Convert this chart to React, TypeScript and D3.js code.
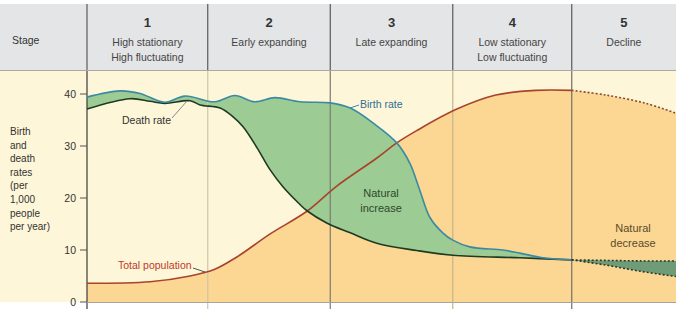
import React from "react";
import * as d3 from "d3";

const stageNumbers = ["1", "2", "3", "4", "5"];
const stageNames = [
  ["High stationary", "High fluctuating"],
  ["Early expanding"],
  ["Late expanding"],
  ["Low stationary", "Low fluctuating"],
  ["Decline"],
];
const stageBounds = [0, 20.5, 41.3, 62.1, 82.3, 100];

const birthT = [0, 5.6, 9.0, 13.2, 16.6, 21.7, 25.1, 28.5, 31.9, 36.2, 41.3, 44.7, 48.6, 52.6, 54.8, 56.5, 58.2, 60.4, 62.1, 65.0, 70.6, 73.5, 77.4, 82.3];
const birthRate = [39.4, 40.6, 40.1, 38.4, 39.6, 38.5, 39.7, 38.5, 39.3, 38.5, 38.3, 37.3, 34.4, 30.6, 26.7, 21.5, 16.3, 13.3, 11.9, 10.6, 10.0, 9.4, 8.5, 8.1];

const deathT = [0, 7.3, 10.7, 13.2, 17.5, 19.2, 22.6, 24.8, 26.5, 28.9, 31.1, 33.3, 36.2, 37.4, 40.7, 44.7, 49.2, 56.0, 62.1, 73.5, 82.3];
const deathRate = [37.1, 39.1, 38.6, 38.2, 38.7, 37.9, 37.3, 35.6, 33.7, 29.6, 25.4, 22.1, 18.7, 17.5, 15.2, 13.3, 11.3, 9.9, 9.0, 8.5, 8.1];

const popT = [0, 10.7, 17.5, 21.7, 25.5, 31.1, 37.4, 42.3, 49.1, 52.6, 55.9, 62.6, 69.4, 76.2, 82.3];
const population = [3.6, 3.9, 5.0, 6.3, 8.7, 13.1, 17.5, 22.2, 27.6, 30.6, 32.9, 37.0, 39.8, 40.7, 40.7];

const popDeclineT = [82.3, 88.1, 94.9, 100];
const popDecline = [40.7, 39.8, 38.2, 36.3];

const declineT = [82.3, 88.1, 94.0, 100];
const declineDeath = [8.1, 8.0, 7.9, 7.9];
const declineBirth = [8.1, 7.1, 5.9, 4.9];

const yTicks = [0, 10, 20, 30, 40];
const axisLabel = ["Birth", "and", "death", "rates", "(per", "1,000", "people", "per year)"];

type P = [number, number];
const zip = (t: number[], v: number[]): P[] => t.map((d, i) => [d, v[i]]);

export default function App() {
  const W = 676, H = 309;
  const plotTop = 71, plotBottom = 302, left = 87;
  const x = d3.scaleLinear().domain([0, 100]).range([left, W]);
  const y = d3.scaleLinear().domain([0, 40]).range([plotBottom, 94]);
  const curve = d3.curveCatmullRom.alpha(0.5);

  const line = d3.line<P>().x(d => x(d[0])).y(d => y(d[1])).curve(curve);
  const areaDown = d3.area<P>().x(d => x(d[0])).y0(plotBottom).y1(d => y(d[1])).curve(curve);
  const areaUp = d3.area<P>().x(d => x(d[0])).y0(plotTop).y1(d => y(d[1])).curve(curve);

  const birth = zip(birthT, birthRate);
  const death = zip(deathT, deathRate);
  const pop = zip(popT, population);
  const popD = zip(popDeclineT, popDecline);
  const dDeath = zip(declineT, declineDeath);
  const dBirth = zip(declineT, declineBirth);

  const font = "'Liberation Sans', Arial, sans-serif";
  const plotLineColors = ["#3a3a3a", "#cfc6a6", "#7a7a72", "#c4b48c", "#6f6f68"];

  return (
    <svg width={W} height={H} style={{ position: "absolute", left: 0, top: 0, display: "block" }} fontFamily={font}>
      <defs>
        <clipPath id="aboveDeath"><path d={areaUp(death) || ""} /></clipPath>
        <clipPath id="aboveBirthDecl"><path d={areaUp(dBirth) || ""} /></clipPath>
      </defs>
      <rect x={0} y={0} width={W} height={H} fill="#ffffff" />
      {/* header */}
      <rect x={0} y={4} width={W} height={66} fill="#e4e5e7" />
      {/* plot background */}
      <rect x={0} y={plotTop} width={W} height={plotBottom - plotTop} fill="#fdf6d8" />
      {/* population area */}
      <path d={areaDown(pop) || ""} fill="#fbd793" />
      <path d={areaDown(popD) || ""} fill="#fbd793" />
      {/* natural increase */}
      <path d={areaDown(birth) || ""} fill="#9ccb93" clipPath="url(#aboveDeath)" />
      {/* natural decrease */}
      <path d={areaDown(dDeath) || ""} fill="#6e9c78" clipPath="url(#aboveBirthDecl)" />

      {/* vertical lines */}
      {stageBounds.slice(0, 5).map((b, i) => (
        <g key={"v" + i}>
          <line x1={x(b)} x2={x(b)} y1={4} y2={70} stroke="#5a5a5a" strokeWidth={1.2} />
          <line x1={x(b)} x2={x(b)} y1={70} y2={H} stroke={plotLineColors[i]} strokeWidth={1.2} />
        </g>
      ))}
      <line x1={0} x2={W} y1={70.5} y2={70.5} stroke="#a9a9a4" strokeWidth={1.2} />
      <line x1={left} x2={W} y1={plotBottom + 0.5} y2={plotBottom + 0.5} stroke="#a8a49a" strokeWidth={1.2} />

      {/* lines */}
      <path d={line(pop) || ""} fill="none" stroke="#a8432c" strokeWidth={1.6} />
      <path d={line(popD) || ""} fill="none" stroke="#8a4a32" strokeWidth={1.6} strokeDasharray="2,2" />
      <path d={line(death) || ""} fill="none" stroke="#1f3a24" strokeWidth={1.6} />
      <path d={line(birth) || ""} fill="none" stroke="#3b8aa3" strokeWidth={1.6} />
      <path d={line(dDeath) || ""} fill="none" stroke="#2a3a2c" strokeWidth={1.6} strokeDasharray="2,2" />
      <path d={line(dBirth) || ""} fill="none" stroke="#2a3a2c" strokeWidth={1.6} strokeDasharray="2,2" />

      {/* y axis ticks */}
      {yTicks.map(t => (
        <g key={"t" + t}>
          <line x1={80} x2={left} y1={y(t)} y2={y(t)} stroke="#555" strokeWidth={1} />
          <text x={76} y={y(t)} dy="0.35em" textAnchor="end" fontSize={10.5} fill="#333">{t}</text>
        </g>
      ))}
      {axisLabel.map((s, i) => (
        <text key={"a" + i} x={10} y={135 + i * 13.6} fontSize={10} fill="#333">{s}</text>
      ))}

      {/* header text */}
      <text x={12} y={44} fontSize={10.5} fill="#333">Stage</text>
      {stageNumbers.map((n, i) => {
        const cx = (x(stageBounds[i]) + x(stageBounds[i + 1])) / 2;
        return (
          <g key={"s" + i}>
            <text x={cx} y={27} textAnchor="middle" fontSize={13} fontWeight="bold" fill="#333">{n}</text>
            {stageNames[i].map((s, j) => (
              <text key={j} x={cx} y={46 + j * 15} textAnchor="middle" fontSize={10.5} fill="#444">{s}</text>
            ))}
          </g>
        );
      })}

      {/* annotations */}
      <line x1={172} y1={118} x2={187} y2={101} stroke="#888" strokeWidth={1} />
      <text x={122} y={124} fontSize={10.5} fill="#333">Death rate</text>
      <line x1={350} y1={108} x2={359} y2={105} stroke="#3b8aa3" strokeWidth={1} />
      <text x={360} y={108} fontSize={10.5} fill="#2f6f95">Birth rate</text>
      <line x1={193} y1={268} x2={205} y2={272} stroke="#555" strokeWidth={1} />
      <text x={118} y={269} fontSize={10.5} fill="#c0392b">Total population</text>
      <text x={381} y={197} textAnchor="middle" fontSize={11} fill="#2c4a2c">Natural</text>
      <text x={381} y={212} textAnchor="middle" fontSize={11} fill="#2c4a2c">increase</text>
      <text x={633} y={232} textAnchor="middle" fontSize={11} fill="#5a4a2a">Natural</text>
      <text x={633} y={247} textAnchor="middle" fontSize={11} fill="#5a4a2a">decrease</text>
    </svg>
  );
}
